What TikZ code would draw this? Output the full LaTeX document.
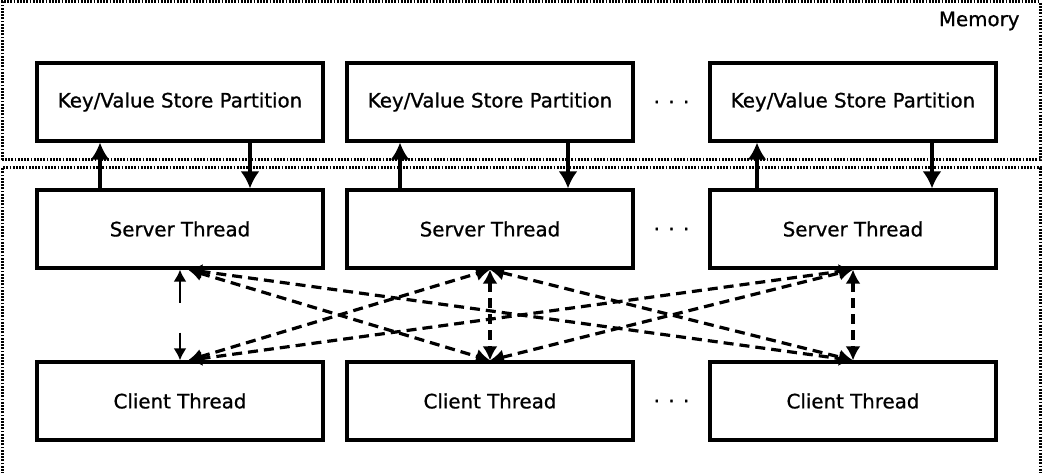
\documentclass[tikz,border=0pt]{standalone}
\usepackage{fontspec}
\setmainfont{DejaVu Sans}
\newfontfamily\boxfont[FakeBold=0.9]{DejaVu Sans}
\usetikzlibrary{arrows.meta,calc}
\tikzstyle{part} = [draw, rectangle, line width=3.2pt, minimum width=286pt, minimum height=78pt, font=\boxfont\fontsize{19.8}{23}\selectfont]
\tikzstyle{link} = [->, line width=3.2pt]
\tikzstyle{msg} = [{Latex[length=14pt,width=15pt]}-{Latex[length=14pt,width=15pt]}, line width=3.2pt, dash pattern=on 10pt off 6pt]
\tikzstyle{region} = [line width=3pt, dash pattern=on 1.8pt off 1.4pt]

\begin{document}
\begin{tikzpicture}[node distance=310pt, auto, >={Latex[length=17pt,width=19pt]}, x=1pt, y=1pt]
  \useasboundingbox (0,0) rectangle (1050,-473);

  % the two dotted regions, the lower one runs off the page
  \draw [region] (2,-160) rectangle (1040,-2);
  \draw [region] (2,-490) -- (2,-168) -- (1040,-168) -- (1040,-490);
  \node [anchor=east, font=\boxfont\fontsize{19.8}{23}\selectfont] (mem) at (1023,-21) {Memory};

  % first column, the others are placed from it
  \node [part] (kv1) at (180,-102) {Key/Value Store Partition};
  \node [part, right of=kv1] (kv2) {Key/Value Store Partition};
  \node [part, right of=kv2, node distance=363pt] (kv3) {Key/Value Store Partition};
  \node [part, below of=kv1, node distance=127pt] (srv1) {Server Thread};
  \node [part, right of=srv1] (srv2) {Server Thread};
  \node [part, right of=srv2, node distance=363pt] (srv3) {Server Thread};
  \node [part, below of=srv1, node distance=172pt] (cli1) {Client Thread};
  \node [part, right of=cli1] (cli2) {Client Thread};
  \node [part, right of=cli2, node distance=363pt] (cli3) {Client Thread};

  \node [font=\boxfont\fontsize{19.8}{23}\selectfont] (dotsa) at ($(kv2.east)!0.5!(kv3.west)$) {. . .};
  \node [font=\boxfont\fontsize{19.8}{23}\selectfont] (dotsb) at ($(srv2.east)!0.5!(srv3.west)$) {. . .};
  \node [font=\boxfont\fontsize{19.8}{23}\selectfont] (dotsc) at ($(cli2.east)!0.5!(cli3.west)$) {. . .};

  % store access
  \draw [link] ([xshift=-80pt]srv1.north) -- ([xshift=-80pt]kv1.south);
  \draw [link] ([xshift=70pt]kv1.south) -- ([xshift=70pt]srv1.north);
  \draw [link] ([xshift=-90pt]srv2.north) -- ([xshift=-90pt]kv2.south);
  \draw [link] ([xshift=78pt]kv2.south) -- ([xshift=78pt]srv2.north);
  \draw [link] ([xshift=-96pt]srv3.north) -- ([xshift=-96pt]kv3.south);
  \draw [link] ([xshift=79pt]kv3.south) -- ([xshift=79pt]srv3.north);

  % client to server requests
  \draw [{Latex[length=12pt,width=13pt]}-{Latex[length=12pt,width=13pt]}, line width=2.2pt, dash pattern=on 22pt off 30pt on 60pt off 0pt] (srv1.south) -- (cli1.north);
  \draw [msg] (srv2.south) -- (cli2.north);
  \draw [msg] (srv3.south) -- (cli3.north);
  \draw [msg] ([xshift=8pt]srv1.south) -- (cli2.north);
  \draw [msg] ([xshift=8pt]srv1.south) -- (cli3.north);
  \draw [msg] ([xshift=8pt]cli1.north) -- (srv2.south);
  \draw [msg] ([xshift=8pt]cli1.north) -- (srv3.south);
  \draw [msg] (srv2.south) -- (cli3.north);
  \draw [msg] (cli2.north) -- (srv3.south);

\end{tikzpicture}
\end{document}
